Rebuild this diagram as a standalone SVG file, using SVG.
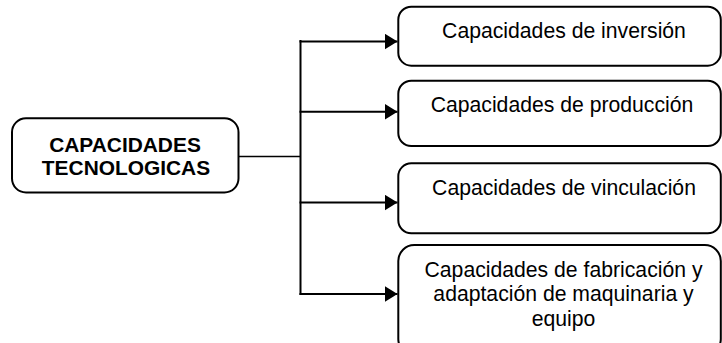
<svg xmlns="http://www.w3.org/2000/svg" width="722" height="343" viewBox="0 0 722 343">
<style>
.box{fill:#fff;stroke:#000;stroke-width:2}
.t{font-family:"Liberation Sans",Arial,sans-serif;font-size:21.2px;fill:#000;text-anchor:middle}
.b{font-weight:bold;font-size:20.9px}
.c{fill:none;stroke:#000;stroke-width:2}
</style>
<defs>
<marker id="ah" viewBox="0 0 13 16" refX="13" refY="8" markerWidth="13" markerHeight="16" markerUnits="userSpaceOnUse" orient="auto">
<path d="M0,0 L13,8 L0,16 Z" fill="#000"/>
</marker>
</defs>
<g id="connectors">
<line x1="238" y1="156.5" x2="300.5" y2="156.5" stroke="#000" stroke-width="1.6"/>
<line class="c" x1="300.5" y1="40" x2="300.5" y2="295"/>
<line class="c" x1="299.5" y1="41.5" x2="397.5" y2="41.5" marker-end="url(#ah)"/>
<line class="c" x1="299.5" y1="111.7" x2="397.5" y2="111.7" marker-end="url(#ah)"/>
<line class="c" x1="299.5" y1="202.5" x2="397.5" y2="202.5" marker-end="url(#ah)"/>
<line class="c" x1="299.5" y1="294" x2="397.5" y2="294" marker-end="url(#ah)"/>
</g>
<g id="n0">
<rect class="box" x="12" y="118.3" width="226.5" height="74.2" rx="14"/>
<text class="t b" x="125" y="151.7">CAPACIDADES</text>
<text class="t b" x="126" y="175">TECNOLOGICAS</text>
</g>
<g id="n1">
<rect class="box" x="398.3" y="6.7" width="322.5" height="59" rx="13"/>
<text class="t" x="564" y="37.5">Capacidades de inversión</text>
</g>
<g id="n2">
<rect class="box" x="398.3" y="80.7" width="322.5" height="65.3" rx="13"/>
<text class="t" x="562" y="111.5">Capacidades de producción</text>
</g>
<g id="n3">
<rect class="box" x="398.3" y="163.3" width="322.5" height="70" rx="13"/>
<text class="t" x="564" y="195">Capacidades de vinculación</text>
</g>
<g id="n4">
<rect class="box" x="398.3" y="245" width="322.5" height="110" rx="16"/>
<text class="t" x="563.5" y="276.7">Capacidades de fabricación y</text>
<text class="t" x="563.5" y="301.3">adaptación de maquinaria y</text>
<text class="t" x="563.5" y="325.5">equipo</text>
</g>
</svg>
